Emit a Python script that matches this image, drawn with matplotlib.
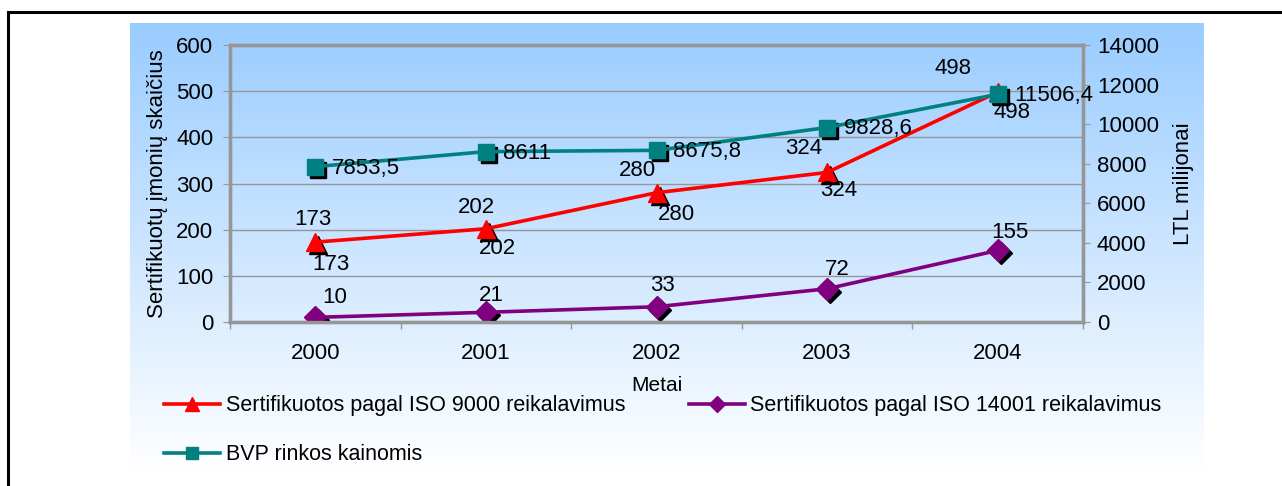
import numpy as np
import matplotlib
matplotlib.use('Agg')
import matplotlib.pyplot as plt
from matplotlib.lines import Line2D
from matplotlib.transforms import offset_copy

plt.rcParams['font.family'] = ['Liberation Sans', 'DejaVu Sans']

# Data
years = ['2000', '2001', '2002', '2003', '2004']
iso9000 = [173, 202, 280, 324, 498]
iso14001 = [10, 21, 33, 72, 155]
bvp = [7853.5, 8611, 8675.8, 9828.6, 11506.4]
bvp_labels = ['7853,5', '8611', '8675,8', '9828,6', '11506,4']

# label offsets (points) as laid out in the original
iso9000_up = [(-2, 16), (-7, 15), (-14, 16), (-17, 17), (-32, 17)]
iso9000_down = [(11, -16), (8, -14), (14, -16), (8, -13), (10, -15)]
iso14001_off = [(14, 14), (4, 12), (4, 15), (7, 14), (9, 13)]

gray = '#969696'
red = '#FF0000'
purple = '#800080'
teal = '#008080'
fs = 16

fig = plt.figure(figsize=(12.82, 4.86), dpi=100)

# gradient background
bg = fig.add_axes([130/1282, 1-470/486, 1074/1282, 447/486], zorder=-10)
grad = np.linspace(0, 1, 256).reshape(-1, 1)
top = np.array([0x99, 0xCC, 0xFF]) / 255
bottom = np.array([1.0, 1.0, 1.0])
img = top + (bottom - top) * grad[..., None]
bg.imshow(img, aspect='auto', extent=[0, 1, 0, 1], origin='upper')
bg.axis('off')

# outer frame
fig.add_artist(Line2D([8/1282, 1], [1-12/486, 1-12/486], color='black', lw=2.2))
fig.add_artist(Line2D([8/1282, 8/1282], [0, 1-12/486], color='black', lw=2.2))

ax = fig.add_axes([230/1282, 1-322/486, 853/1282, 277/486])
ax.set_facecolor('none')
ax2 = ax.twinx()
ax2.set_facecolor('none')

x = np.arange(len(years))

for a in (ax, ax2):
    for s in a.spines.values():
        s.set_color(gray)
        s.set_linewidth(2.4)

ax.set_xlim(-0.5, 4.5)
ax.set_ylim(0, 600)
ax.set_yticks(range(0, 601, 100))
ax2.set_ylim(0, 14000)
ax2.set_yticks(range(0, 14001, 2000))
ax.yaxis.grid(True, color=gray, lw=1)
ax.set_axisbelow(True)

ax.set_xticks(x)
ax.set_xticklabels(years, fontsize=fs)
ax.set_xticks(np.arange(-0.5, 4.6, 1), minor=True)
ax.tick_params(axis='x', which='major', length=0, pad=15)
ax.tick_params(axis='x', which='minor', length=5, color=gray, width=1)
ax.tick_params(axis='y', labelsize=fs, length=5, color=gray, pad=7)
ax2.tick_params(axis='y', labelsize=fs, length=5, color=gray, pad=5)

ax.set_xlabel('Metai', fontsize=15, labelpad=9)
ax.set_ylabel('Sertifikuotų įmonių skaičius', fontsize=fs, labelpad=6)
ax2.set_ylabel('LTL milijonai', fontsize=fs, labelpad=10)

def shadow(a):
    return offset_copy(a.transData, fig=fig, x=3, y=-3, units='dots')

# ISO 9000
ax.plot(x, iso9000, 'k^', ms=13, transform=shadow(ax), zorder=3)
l1, = ax.plot(x, iso9000, color=red, lw=2.6, marker='^', ms=13, zorder=4,
              label='Sertifikuotos pagal ISO 9000 reikalavimus')
for xi, v, up, dn in zip(x, iso9000, iso9000_up, iso9000_down):
    ax.annotate(str(v), (xi, v), xytext=up, textcoords='offset points',
                ha='center', va='center', fontsize=fs, zorder=6)
    ax.annotate(str(v), (xi, v), xytext=dn, textcoords='offset points',
                ha='center', va='center', fontsize=fs, zorder=6)

# ISO 14001
ax.plot(x, iso14001, 'kD', ms=11, transform=shadow(ax), zorder=3)
l2, = ax.plot(x, iso14001, color=purple, lw=2.6, marker='D', ms=11, zorder=4,
              label='Sertifikuotos pagal ISO 14001 reikalavimus')
for xi, v, off in zip(x, iso14001, iso14001_off):
    ax.annotate(str(v), (xi, v), xytext=off, textcoords='offset points',
                ha='center', va='center', fontsize=fs, zorder=6)

# BVP
ax2.plot(x, bvp, 'ks', ms=12, transform=shadow(ax2), zorder=3)
l3, = ax2.plot(x, bvp, color=teal, lw=2.6, marker='s', ms=12, zorder=4,
               label='BVP rinkos kainomis')
for xi, v, t in zip(x, bvp, bvp_labels):
    ax2.annotate(t, (xi, v), xytext=(12, -1), textcoords='offset points',
                 ha='left', va='center', fontsize=fs, zorder=6)

# row-wise order: ISO 9000 | ISO 14001 / BVP
fig.legend(handles=[l1, l3, l2], loc='upper left',
           bbox_to_anchor=(145/1282, 1-376/486), ncol=2, frameon=False,
           fontsize=15.5, handlelength=2.6, handletextpad=0.25,
           columnspacing=2.95, labelspacing=1.3,
           markerscale=0.75)

fig.savefig('out.png', dpi=100)
